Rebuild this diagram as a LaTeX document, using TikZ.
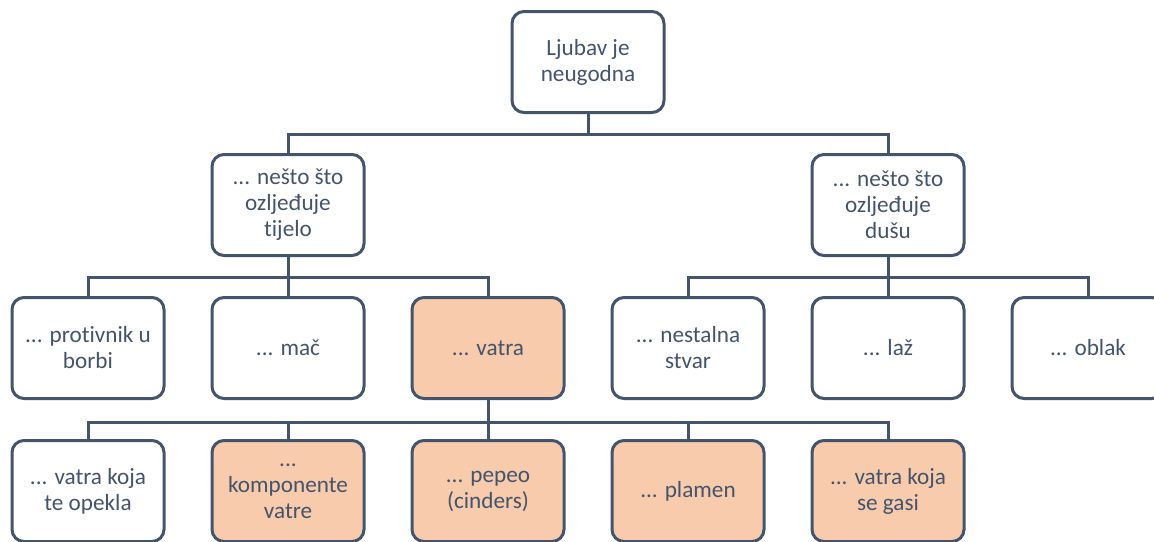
\documentclass[tikz,border=0pt]{standalone}
\usepackage{fontspec}
\setmainfont{Carlito}[Ligatures=CommonOff]

\definecolor{slate}{HTML}{44546A}
\definecolor{peach}{HTML}{F8CBAD}

\tikzset{
	box/.style={draw=slate, line width=1.5pt, rounded corners=6pt, fill=white,
		minimum width=76pt, minimum height=50.5pt, inner sep=0pt, align=center,
		text=slate, font=\fontsize{11.6pt}{13pt}\selectfont},
	hot/.style={box, fill=peach},
	conn/.style={draw=slate, line width=1.5pt},
}

\begin{document}
\begin{tikzpicture}[x=0.5pt,y=-0.5pt]
\pgfmathsetmacro{\rowa}{205}
\pgfmathsetmacro{\rowb}{348}
\pgfmathsetmacro{\rowc}{491}
\useasboundingbox (0,0) rectangle (1154,541);
\clip (0,0) rectangle (1154,541);

\node[box] (root) at (588,62) {Ljubav je\\neugodna};

\node[box] (tijelo) at (288,\rowa) {... nešto što\\ozljeđuje\\tijelo};
\node[box] (dusa) at (888,\rowa) {... nešto što\\ozljeđuje\\dušu};

\node[box] (protivnik) at (88,\rowb) {... protivnik u\\borbi};
\node[box] (mac) at (288,\rowb) {... mač};
\node[hot] (vatra) at (488,\rowb) {... vatra};
\node[box] (stvar) at (688,\rowb) {... nestalna\\stvar};
\node[box] (laz) at (888,\rowb) {... laž};
\node[box] (oblak) at (1088,\rowb) {... oblak};

\node[box] (opekla) at (88,\rowc) {... vatra koja\\te opekla};
\node[hot] (komponente) at (288,\rowc) {...\\komponente\\vatre};
\node[hot] (pepeo) at (488,\rowc) {... pepeo\\(cinders)};
\node[hot] (plamen) at (688,\rowc) {... plamen};
\node[hot] (gasi) at (888,\rowc) {... vatra koja\\se gasi};

\foreach \n in {tijelo, dusa}{
	\draw[conn] (root.south) -- ++(0,20) -| (\n.north);
}
\foreach \n in {protivnik, mac, vatra}{
	\draw[conn] (tijelo.south) -- ++(0,20.5) -| (\n.north);
}
\foreach \n in {stvar, laz, oblak}{
	\draw[conn] (dusa.south) -- ++(0,20.5) -| (\n.north);
}
\foreach \n in {opekla, komponente, pepeo, plamen, gasi}{
	\draw[conn] (vatra.south) -- ++(0,22) -| (\n.north);
}

\end{tikzpicture}
\end{document}
